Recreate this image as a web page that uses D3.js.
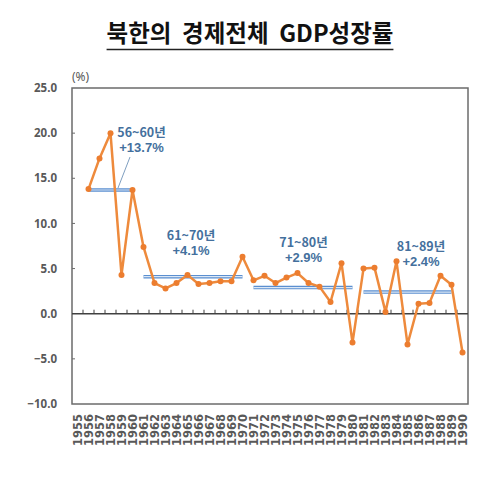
<!DOCTYPE html>
<html>
<head>
<meta charset="utf-8">
<script src="https://cdn.jsdelivr.net/npm/d3@7"></script>
<style>
  body { margin: 0; background: #fff; }
</style>
</head>
<body>
<svg></svg>
<script>
// chart data
var years = d3.range(1955, 1991);
var growth = [null, 13.8, 17.2, 20.0, 4.3, 13.7, 7.4, 3.4, 2.8, 3.4,
    4.3, 3.3, 3.4, 3.6, 3.6, 6.3, 3.7, 4.2, 3.4, 4.0,
    4.5, 3.4, 3.0, 1.3, 5.6, -3.2, 5.0, 5.1, 0.2, 5.8,
    -3.4, 1.1, 1.2, 4.2, 3.2, -4.3];
var yTicks = [25, 20, 15, 10, 5, 0, -5, -10];

var periodNames = ["56~60년", "61~70년", "71~80년", "81~89년"];
var periodStart = [1956, 1961, 1971, 1981];
var periodEnd = [1960, 1970, 1980, 1989];
var periodAvg = [13.7, 4.1, 2.9, 2.4];
var periodText = ["+13.7%", "+4.1%", "+2.9%", "+2.4%"];

var svgWidth = 499;
var svgHeight = 480;

var plotLeft = 72, plotRight = 468, plotTop = 88, plotBottom = 404;

var svg = d3.select("svg")
    .attr("width", svgWidth)
    .attr("height", svgHeight);

var x = d3.scaleBand()
    .domain(years)
    .range([plotLeft, plotRight]);

var y = d3.scaleLinear()
    .domain([-10, 25])
    .range([plotBottom, plotTop]);

function cx(year) {
    return x(year) + x.bandwidth() / 2;
}

// title
var title = svg.append("text")
    .attr("x", 250)
    .attr("y", 42)
    .attr("text-anchor", "middle")
    .style("font-family", "'Noto Sans CJK KR'")
    .style("font-weight", "bold")
    .style("font-size", "23.5px")
    .style("fill", "#111")
    .style("white-space", "pre")
    .text("북한의  경제전체  GDP성장률");

var tb = title.node().getBBox();
svg.append("line")
    .attr("x1", tb.x)
    .attr("x2", tb.x + tb.width)
    .attr("y1", 49.5)
    .attr("y2", 49.5)
    .style("stroke", "#222")
    .style("stroke-width", 1.5);

// frame
svg.append("rect")
    .attr("x", plotLeft)
    .attr("y", plotTop)
    .attr("width", plotRight - plotLeft)
    .attr("height", plotBottom - plotTop)
    .style("fill", "none")
    .style("stroke", "#6b6b6b")
    .style("stroke-width", 1.5);

// y axis labels and ticks
var yAxis = d3.axisLeft(y)
    .tickValues(yTicks)
    .tickSize(0)
    .tickPadding(15)
    .tickFormat(d3.format(".1f"));

var gy = svg.append("g")
    .attr("transform", "translate(" + plotLeft + ",0)")
    .call(yAxis);
gy.select(".domain").remove();
gy.selectAll("text")
    .style("font-family", "'Noto Sans'")
    .style("font-weight", "bold")
    .style("font-size", "11.5px")
    .style("fill", "#595959");

svg.selectAll(".ytick")
    .data(yTicks.filter(function (d) { return d < 25 && d > -10 && d != 0; }))
    .enter().append("line")
    .attr("x1", plotLeft)
    .attr("x2", plotLeft + 3)
    .attr("y1", function (d) { return y(d); })
    .attr("y2", function (d) { return y(d); })
    .style("stroke", "#6b6b6b")
    .style("stroke-width", 1);

svg.append("text")
    .attr("x", plotLeft)
    .attr("y", 81)
    .style("font-family", "'Noto Sans'")
    .style("font-size", "12px")
    .style("fill", "#595959")
    .text("(%)");

// zero line with ticks on band edges
svg.append("line")
    .attr("x1", plotLeft)
    .attr("x2", plotRight)
    .attr("y1", y(0))
    .attr("y2", y(0))
    .style("stroke", "#404040")
    .style("stroke-width", 1.5);

svg.selectAll(".xtick")
    .data(years.slice(1))
    .enter().append("line")
    .attr("x1", function (d) { return x(d); })
    .attr("x2", function (d) { return x(d); })
    .attr("y1", y(0))
    .attr("y2", y(0) - 4)
    .style("stroke", "#404040")
    .style("stroke-width", 1);

// x labels
svg.selectAll(".xlabel")
    .data(years)
    .enter().append("text")
    .attr("transform", function (d) {
        return "translate(" + cx(d) + "," + 414 + ") rotate(-90)";
    })
    .attr("dy", "0.35em")
    .attr("text-anchor", "end")
    .style("font-family", "'DejaVu Sans'")
    .style("font-weight", "bold")
    .style("font-size", "11.5px")
    .style("fill", "#595959")
    .text(function (d) { return d; });

// period average lines
periodAvg.forEach(function (v, i) {
    svg.append("line")
        .attr("x1", cx(periodStart[i]))
        .attr("x2", cx(periodEnd[i]))
        .attr("y1", y(v))
        .attr("y2", y(v))
        .style("stroke", "#5b8fd0")
        .style("stroke-width", 3.5);
    svg.append("line")
        .attr("x1", cx(periodStart[i]))
        .attr("x2", cx(periodEnd[i]))
        .attr("y1", y(v))
        .attr("y2", y(v))
        .style("stroke", "#dbe7f5")
        .style("stroke-width", 1.2);
});

// growth line
var points = years.map(function (d, i) { return { year: d, value: growth[i] }; })
    .filter(function (d) { return d.value !== null; });

var line = d3.line()
    .x(function (d) { return cx(d.year); })
    .y(function (d) { return y(d.value); });

svg.append("path")
    .datum(points)
    .attr("d", line)
    .style("fill", "none")
    .style("stroke", "#ee8a3c")
    .style("stroke-width", 2.5)
    .style("stroke-linejoin", "round");

svg.selectAll(".dot")
    .data(points)
    .enter().append("circle")
    .attr("cx", function (d) { return cx(d.year); })
    .attr("cy", function (d) { return y(d.value); })
    .attr("r", 3)
    .style("fill", "#ec7d2f");

// period labels
var labelPos = [[141.5, 137], [191, 240], [303.5, 247], [421, 251]];

periodNames.forEach(function (name, i) {
    svg.append("text")
        .attr("x", labelPos[i][0])
        .attr("y", labelPos[i][1])
        .attr("text-anchor", "middle")
        .style("font-family", "'Noto Sans CJK KR'")
        .style("font-weight", "bold")
        .style("font-size", "12.5px")
        .style("fill", "#44709d")
        .text(name);
    svg.append("text")
        .attr("x", labelPos[i][0])
        .attr("y", labelPos[i][1] + 15)
        .attr("text-anchor", "middle")
        .style("font-family", "'Liberation Sans'")
        .style("font-weight", "bold")
        .style("font-size", "13px")
        .style("fill", "#44709d")
        .text(periodText[i]);
});

// leader for the first label
svg.append("line")
    .attr("x1", 130)
    .attr("y1", 157)
    .attr("x2", 118)
    .attr("y2", 188)
    .style("stroke", "#7f9fc0")
    .style("stroke-width", 1);
</script>
</body>
</html>
